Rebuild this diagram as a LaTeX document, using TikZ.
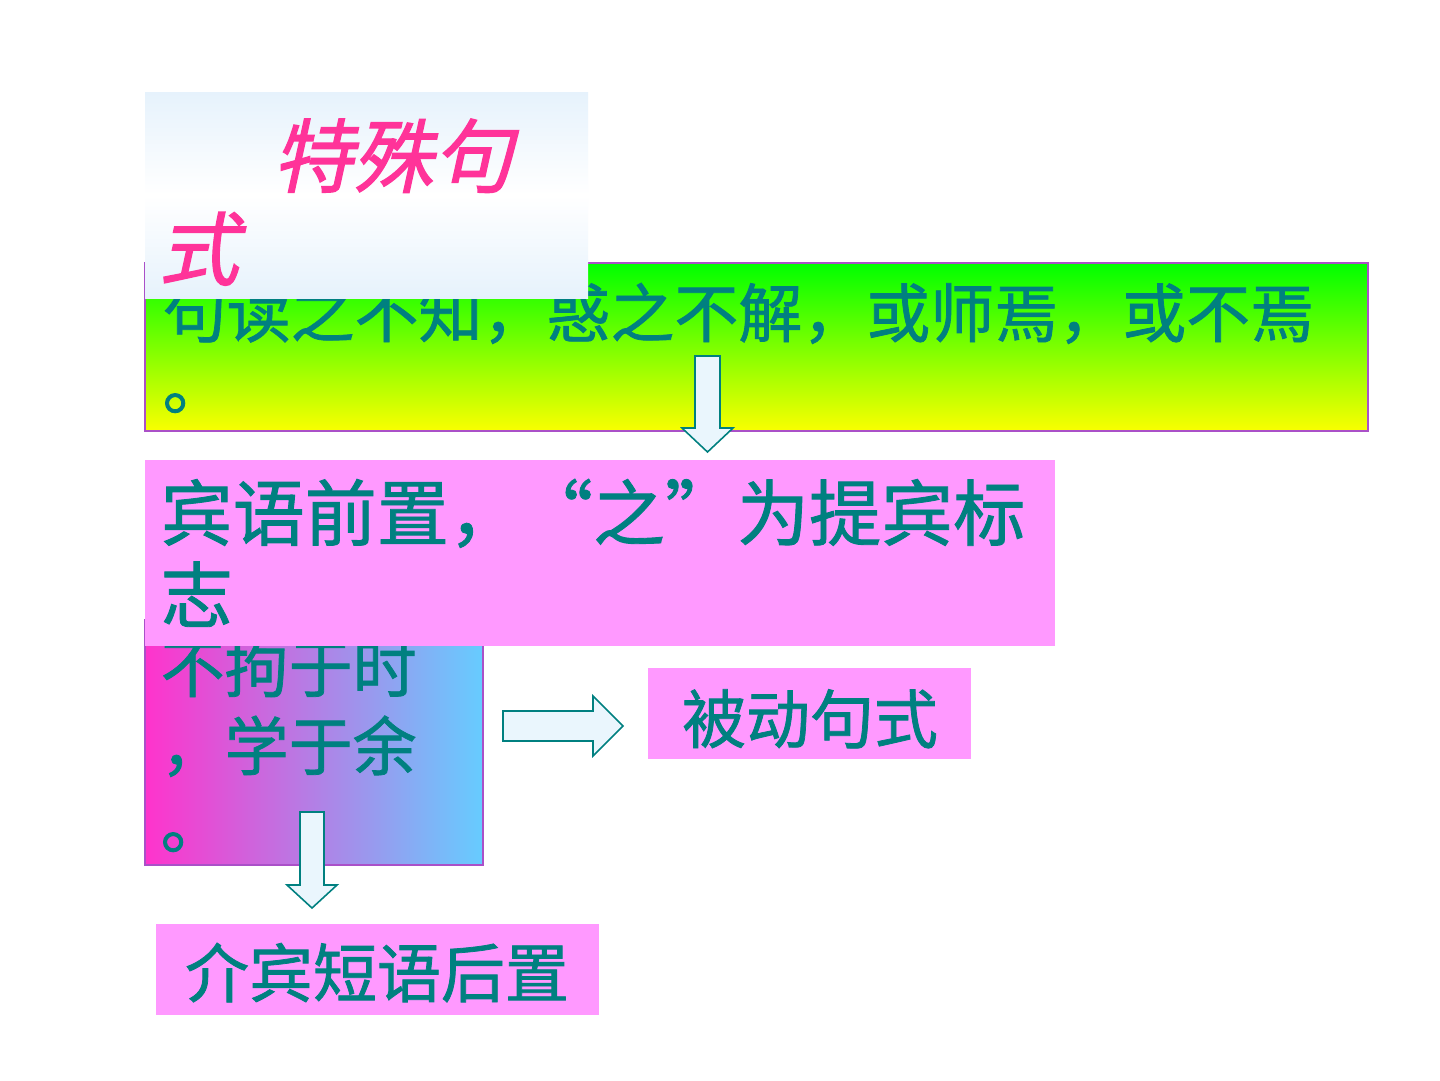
\documentclass[tikz,border=0pt]{standalone}
\usepackage{fontspec}
\newfontfamily\cjk[FakeBold=1.2]{Noto Sans CJK SC}
\newfontfamily\cjkit[FakeSlant=0.22,FakeBold=1.5]{Noto Sans CJK SC}
\definecolor{txt}{RGB}{0,128,128}
\definecolor{ttl}{RGB}{255,51,153}
\definecolor{pinkbox}{RGB}{255,153,255}
\definecolor{arrowfill}{RGB}{234,246,253}
\definecolor{edge}{RGB}{170,80,200}
\definecolor{gtop}{RGB}{0,255,0}
\definecolor{gbot}{RGB}{250,255,0}
\definecolor{ttop}{RGB}{230,242,252}
\definecolor{mleft}{RGB}{255,51,204}
\definecolor{mright}{RGB}{102,204,255}
\begin{document}
\begin{tikzpicture}[x=0.1mm,y=-0.1mm,
  box/.style={anchor=north west, inner sep=0pt, outer sep=0pt},
  body/.style={text=txt, inner sep=0pt, anchor=base west, font=\cjk\fontsize{18.2pt}{20pt}\selectfont},
  bigbody/.style={body, font=\cjk\fontsize{20.5pt}{22pt}\selectfont},
  ttlfont/.style={text=ttl, inner sep=0pt, anchor=base west, font=\cjkit\fontsize{22.8pt}{24pt}\selectfont},
  blockarrow/.style={draw=txt, fill=arrowfill, line width=0.45pt, line join=miter}]
\useasboundingbox[fill=white] (0,0) rectangle (1440,1080);

% green box
\node[box, draw=edge, line width=0.4pt, top color=gtop, bottom color=gbot,
      minimum width=122.3mm, minimum height=16.8mm] (green) at (145,263) {};
\node[body] (g1) at (162,337) {句读之不知，惑之不解，或师焉，或不焉};
\node[body] (g2) at (162,409) {。};

% title box
\node[box, top color=ttop, bottom color=ttop, middle color=white,
      minimum width=44.3mm, minimum height=20.6mm] (title) at (145,92) {};
\node[ttlfont] (t1) at (272,186) {特殊句};
\node[ttlfont] (t2) at (158,279) {式};

% arrow 1
\draw[blockarrow] (695,356) -- (720,356) -- (720,428) -- (733,428) -- (707.5,452)
  -- (682,428) -- (695,428) -- cycle;

% gradient box
\node[box, draw=edge, line width=0.4pt, left color=mleft, right color=mright,
      minimum width=33.8mm, minimum height=24.5mm] (mid) at (145,620) {};
\node[body] (m1) at (160,692) {不拘于时};
\node[body] (m2) at (160,770) {，学于余};
\node[body] (m3) at (160,848) {。};

% pink box 2
\node[box, fill=pinkbox, minimum width=91mm, minimum height=18.6mm] (obj) at (145,460) {};
\node[bigbody] (o1) at (160,540) {宾语前置，“之”为提宾标};
\node[bigbody] (o2) at (160,622) {志};

% right arrow
\draw[blockarrow] (503,711) -- (593,711) -- (593,696) -- (623,726) -- (593,756)
  -- (593,741) -- (503,741) -- cycle;

% passive box
\node[box, fill=pinkbox, minimum width=32.3mm, minimum height=9.1mm] (pas) at (648,668) {};
\node[body, anchor=base] (pt) at (810,743) {被动句式};

% arrow 2
\draw[blockarrow] (300,812) -- (324,812) -- (324,885) -- (337,885) -- (312,908)
  -- (287,885) -- (300,885) -- cycle;

% prep box
\node[box, fill=pinkbox, minimum width=44.3mm, minimum height=9.1mm] (prep) at (156,924) {};
\node[body, anchor=base] (pp) at (377,997) {介宾短语后置};
\end{tikzpicture}
\end{document}
